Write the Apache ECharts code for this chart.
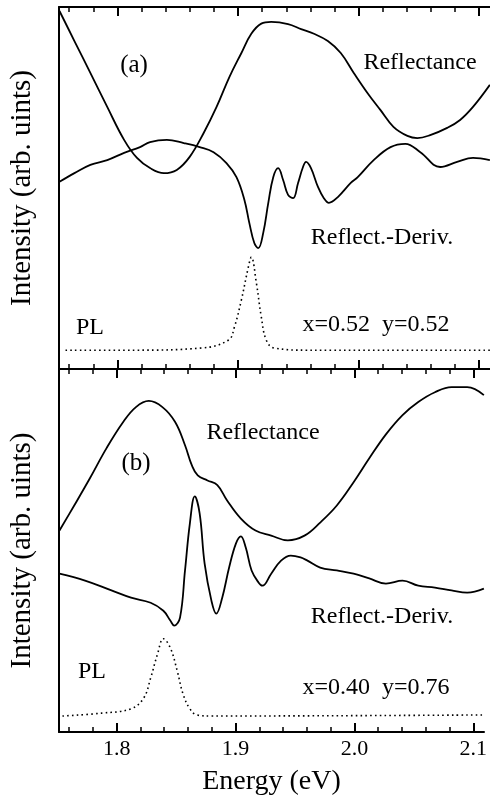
<!DOCTYPE html>
<html>
  <head>
    <meta charset="UTF-8" />
    <title>Reflectance / PL spectra</title>
    <script src="https://cdn.jsdelivr.net/npm/echarts@6.0.0/dist/echarts.min.js"></script>
    <style>
      html, body { margin: 0; padding: 0; background: #fff; }
    </style>
  </head>
  <body>
    <div id="chart" style="width: 490px; height: 797px"></div>
  </body>
  <script>
    // x axis ticks (eV)
    const majorTicks = [1.8, 1.9, 2.0, 2.1];
    const minorTicks = [1.76, 1.78, 1.82, 1.84, 1.86, 1.88, 1.92, 1.94, 1.96, 1.98,
                        2.02, 2.04, 2.06, 2.08, 2.10];

    // panel (a)  x=0.52 y=0.52
    const reflA_E = [1.7519, 1.7643, 1.7775, 1.7915, 1.8055, 1.8162, 1.827, 1.8385, 1.8492, 1.8599,
                     1.8715, 1.8822, 1.8929, 1.9028, 1.911, 1.9193, 1.9275, 1.9415, 1.9523, 1.963,
                     1.9745, 1.9852, 1.996, 2.0075, 2.0182, 2.0289, 2.0405, 2.0487, 2.0594, 2.0735,
                     2.0842, 2.0949, 2.1089];
    const reflA_I = [98.9, 90.6, 81.8, 72.4, 63.3, 58.3, 55.5, 54.1, 55.0, 58.6,
                     65.2, 72.4, 80.7, 87.3, 92.6, 95.4, 95.9, 95.3, 93.9, 92.6,
                     90.6, 87.3, 81.8, 76.2, 71.5, 66.9, 64.4, 63.8, 64.6, 66.6,
                     68.8, 72.4, 78.5];

    const derivA_E = [1.7519, 1.7643, 1.7775, 1.7915, 1.8055, 1.8187, 1.827, 1.841, 1.855, 1.8682,
                      1.8797, 1.8904, 1.8987, 1.9053, 1.9094, 1.9135, 1.9168, 1.9209, 1.9251, 1.9292,
                      1.9333, 1.9374, 1.9415, 1.9457, 1.9498, 1.9539, 1.9564, 1.9605, 1.9663, 1.9712,
                      1.9754, 1.9828, 1.9935, 1.9993, 2.0125, 2.0265, 2.0388, 2.0512, 2.0677, 2.0817,
                      2.0949, 2.1089];
    const derivA_I = [51.7, 54.1, 56.4, 57.7, 59.7, 61.3, 62.7, 63.3, 62.4, 61.3,
                      59.9, 56.9, 53.0, 46.7, 40.3, 34.8, 33.4, 37.6, 45.9, 53.0,
                      55.5, 52.2, 48.1, 47.2, 51.4, 55.8, 57.2, 55.5, 50.3, 47.2,
                      45.9, 47.5, 51.4, 53.0, 57.7, 61.3, 62.2, 59.9, 55.8, 57.2,
                      58.3, 57.7];

    const plA_E = [1.7569, 1.8146, 1.8698, 1.8921, 1.897, 1.9028, 1.9086, 1.911, 1.9152, 1.9193,
                   1.9234, 1.93, 1.958, 2.1089];
    const plA_I = [5.2, 5.2, 5.8, 8.0, 11.6, 19.1, 28.2, 30.9, 23.8, 14.4,
                   8.0, 5.8, 5.2, 5.2];

    // panel (b)  x=0.40 y=0.76
    const reflB_E = [1.7519, 1.7643, 1.7775, 1.7915, 1.8055, 1.8162, 1.827, 1.8385, 1.8492, 1.8575,
                     1.8632, 1.8682, 1.8764, 1.8847, 1.8929, 1.9045, 1.9168, 1.93, 1.944, 1.958,
                     1.9712, 1.9852, 1.9993, 2.0125, 2.0265, 2.0405, 2.0537, 2.0677, 2.0817, 2.0949,
                     2.1089];
    const reflB_I = [55.5, 62.4, 69.9, 78.2, 85.4, 89.5, 91.2, 89.5, 85.4, 79.0,
                     73.5, 70.7, 69.3, 68.0, 63.8, 58.8, 55.5, 54.1, 52.8, 54.1,
                     57.7, 62.4, 68.8, 75.4, 82.0, 87.3, 90.9, 93.6, 95.0, 95.0,
                     92.8];

    const derivB_E = [1.7519, 1.7734, 1.7956, 1.8121, 1.8286, 1.8393, 1.8451, 1.8484, 1.8533, 1.8575,
                      1.8616, 1.8657, 1.8698, 1.874, 1.8797, 1.8838, 1.8888, 1.8946, 1.9003, 1.9045,
                      1.9086, 1.9135, 1.9193, 1.9226, 1.93, 1.9383, 1.9465, 1.9547, 1.9605, 1.9712,
                      1.9852, 1.9993, 2.0125, 2.0265, 2.0405, 2.0537, 2.0677, 2.0817, 2.0949, 2.1089];
    const derivB_I = [43.6, 41.7, 39.0, 37.0, 35.6, 33.4, 30.7, 29.3, 31.5, 44.5,
                      57.5, 64.9, 60.2, 46.4, 36.2, 32.6, 37.0, 45.3, 51.9, 53.9,
                      50.8, 44.5, 41.2, 40.3, 43.6, 47.2, 48.6, 48.1, 47.2, 45.3,
                      44.5, 43.6, 42.3, 40.9, 41.7, 40.3, 39.8, 39.0, 38.4, 39.5];

    const plB_E = [1.7544, 1.7874, 1.8121, 1.8228, 1.8286, 1.8344, 1.8393, 1.8451, 1.8509, 1.8558,
                   1.8616, 1.8674, 1.8805, 2.1089];
    const plB_I = [4.4, 5.2, 6.4, 9.4, 14.9, 21.5, 25.7, 23.2, 16.9, 10.5,
                   6.4, 4.7, 4.4, 4.7];

    const FONT = '"Liberation Serif", "Times New Roman", serif';
    const xMin = 1.7515, xMax = 2.109;

    function pairs(xs, ys) { return xs.map((x, i) => [x, ys[i]]); }

    function xAxes(gridIndex, position, withLabels) {
      const base = {
        type: 'value', gridIndex: gridIndex, position: position, min: xMin, max: xMax,
        splitLine: { show: false }
      };
      return [
        Object.assign({}, base, {
          axisLine: { show: true, lineStyle: { color: '#000', width: 2 } },
          axisTick: { show: true, inside: true, length: 5, customValues: minorTicks,
                      lineStyle: { color: '#000', width: 1.5 } },
          axisLabel: { show: false }
        }),
        Object.assign({}, base, {
          axisLine: { show: false },
          axisTick: { show: true, inside: true, length: 9, customValues: majorTicks,
                      lineStyle: { color: '#000', width: 2 } },
          axisLabel: withLabels ? {
            show: true, customValues: majorTicks, color: '#000', fontFamily: FONT,
            fontSize: 22, margin: 6, formatter: v => v.toFixed(1)
          } : { show: false },
          name: withLabels ? 'Energy (eV)' : '',
          nameLocation: 'middle', nameGap: 36,
          nameTextStyle: { color: '#000', fontFamily: FONT, fontSize: 28 }
        })
      ];
    }

    function yAxis(gridIndex) {
      return {
        type: 'value', gridIndex: gridIndex, min: 0, max: 100,
        axisLine: { show: true, lineStyle: { color: '#000', width: 2 } },
        axisTick: { show: false }, axisLabel: { show: false }, splitLine: { show: false },
        name: 'Intensity (arb. uints)', nameLocation: 'middle', nameGap: 22,
        nameTextStyle: { color: '#000', fontFamily: FONT, fontSize: 29 }
      };
    }

    function curve(xIdx, yIdx, data, dotted) {
      return {
        type: 'line', xAxisIndex: xIdx, yAxisIndex: yIdx, data: data,
        showSymbol: false, smooth: 0.4, clip: true,
        lineStyle: dotted ? { color: '#000', width: 1.6, type: [1.6, 3.2] }
                          : { color: '#000', width: 1.8 }
      };
    }

    function label(text, x, y, size) {
      return {
        type: 'text', x: x, y: y,
        style: { text: text, fill: '#000', font: (size || 24) + 'px ' + FONT,
                 align: 'center', verticalAlign: 'middle' }
      };
    }

    let myChart = echarts.init(document.getElementById('chart'));
    myChart.setOption({
      animation: false,
      backgroundColor: '#fff',
      grid: [
        { left: 57, right: 0, top: 7, height: 362 },
        { left: 57, right: 0, top: 369, height: 363 }
      ],
      xAxis: [].concat(
        xAxes(0, 'bottom', false),   // 0,1
        xAxes(0, 'top', false),      // 2,3
        xAxes(1, 'bottom', true),    // 4,5
        xAxes(1, 'top', false)       // 6,7
      ),
      yAxis: [yAxis(0), yAxis(1)],
      series: [
        curve(0, 0, pairs(reflA_E, reflA_I)),
        curve(0, 0, pairs(derivA_E, derivA_I)),
        curve(0, 0, pairs(plA_E, plA_I), true),
        curve(4, 1, pairs(reflB_E, reflB_I)),
        curve(4, 1, pairs(derivB_E, derivB_I)),
        curve(4, 1, pairs(plB_E, plB_I), true)
      ],
      graphic: [
        label('(a)', 134, 65, 25),
        label('Reflectance', 420, 63),
        label('Reflect.-Deriv.', 382, 238),
        label('PL', 90, 328),
        label('x=0.52  y=0.52', 376, 325),
        label('(b)', 136, 463, 25),
        label('Reflectance', 263, 433),
        label('Reflect.-Deriv.', 382, 617),
        label('PL', 92, 672),
        label('x=0.40  y=0.76', 376, 688)
      ]
    });
  </script>
</html>
